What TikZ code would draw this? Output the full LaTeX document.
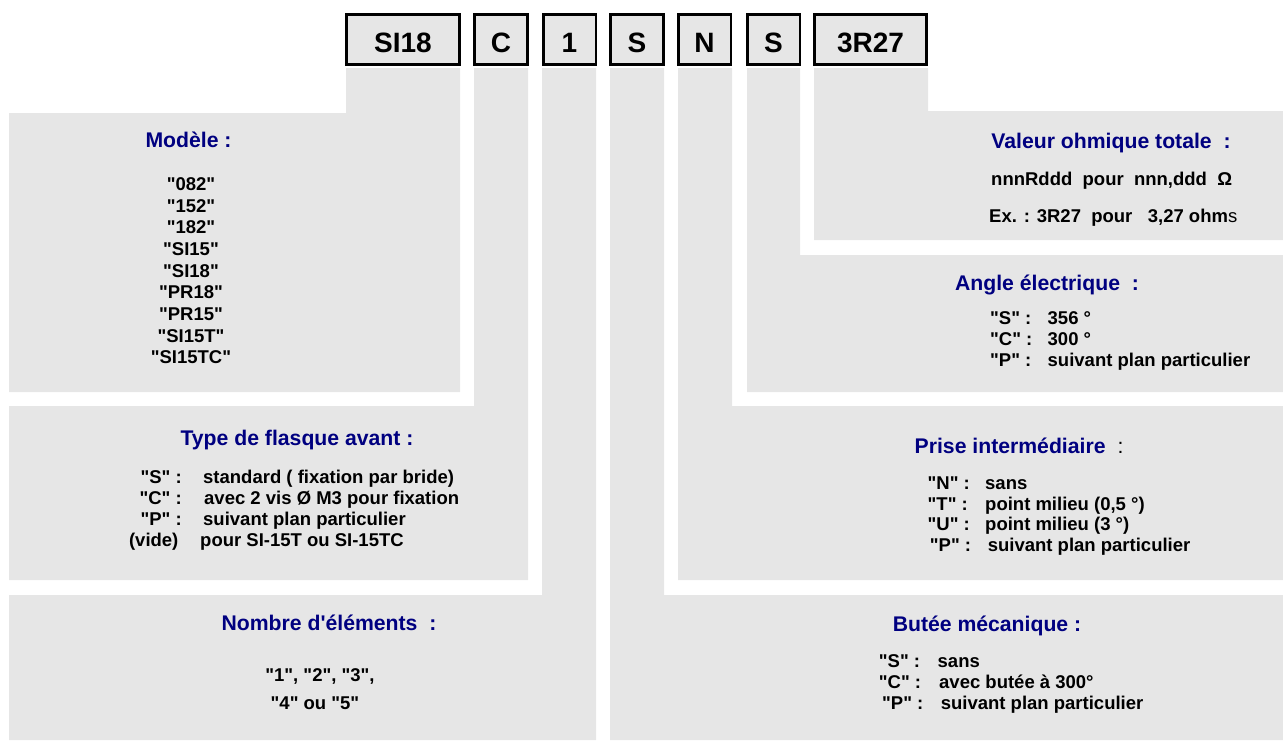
\documentclass[tikz,border=0pt]{standalone}
\usepackage{fontspec}
\setmainfont{Liberation Sans}[Ligatures=TeXOff]
\definecolor{panelgray}{RGB}{230,230,230}
\definecolor{titleblue}{RGB}{0,0,128}
\tikzset{
  codebox/.style={draw=black,line width=2.6pt,fill=panelgray,minimum width=52.6pt,
                  minimum height=49.8pt,inner sep=0pt,text height=26pt,text depth=0pt,
                  font=\fontsize{28}{30}\selectfont\bfseries},
  ttl/.style={inner sep=0pt,text=titleblue,font=\fontsize{21.2}{24}\selectfont\bfseries},
  opt/.style={inner sep=0pt,font=\fontsize{18.5}{21}\selectfont\bfseries}}

\begin{document}
\begin{tikzpicture}[x=1pt,y=-1pt]
  \useasboundingbox (0,0) rectangle (1283,740);
  % stems running down into their panels
  \fill[panelgray] (346,68)--(460,68)--(460,392)--(9,392)--(9,113)--(346,113)--cycle;
  \fill[panelgray] (474,68)--(528,68)--(528,580)--(9,580)--(9,406)--(474,406)--cycle;
  \fill[panelgray] (542,68)--(596,68)--(596,740)--(9,740)--(9,595)--(542,595)--cycle;
  \fill[panelgray] (610,68)--(664,68)--(664,595)--(1283,595)--(1283,740)--(610,740)--cycle;
  \fill[panelgray] (678,68)--(732,68)--(732,406)--(1283,406)--(1283,580)--(678,580)--cycle;
  \fill[panelgray] (747,68)--(800,68)--(800,255)--(1283,255)--(1283,392)--(747,392)--cycle;
  \fill[panelgray] (814,68)--(928,68)--(928,111)--(1283,111)--(1283,240)--(814,240)--cycle;
  % reference code
  \node[codebox,minimum width=113.4pt] (cmod) at (403,39.5) {SI18};
  \node[codebox,minimum width=53.4pt] (cflq) at (501,39.5) {C};
  \node[codebox] (cnbr) at (569.5,39.5) {1};
  \node[codebox,minimum width=53.4pt] (cang) at (637,39.5) {S};
  \node[codebox] (cpri) at (704.5,39.5) {N};
  \node[codebox] (cbut) at (773.5,39.5) {S};
  \node[codebox,minimum width=112.4pt] (cval) at (870.5,39.5) {3R27};
  % Modele
  \node[ttl,anchor=base] (tmod) at (188.5,147.5) {Modèle :};
  \node[opt,anchor=base] (m1) at (191,190.5) {"082"}; \node[opt,anchor=base] (m2) at (191,212.2) {"152"};
  \node[opt,anchor=base] (m3) at (191,233.8) {"182"}; \node[opt,anchor=base] (m4) at (191,255.5) {"SI15"};
  \node[opt,anchor=base] (m5) at (191,277.2) {"SI18"}; \node[opt,anchor=base] (m6) at (191,298.8) {"PR18"};
  \node[opt,anchor=base] (m7) at (191,320.5) {"PR15"}; \node[opt,anchor=base] (m8) at (191,342.2) {"SI15T"};
  \node[opt,anchor=base] (m9) at (191,363.8) {"SI15TC"};
  % Type de flasque
  \node[ttl,anchor=base] (tflq) at (297,445.5) {Type de flasque avant :};
  \node[opt,anchor=base east] (f1) at (182,483.5) {"S" :}; \node[opt,anchor=base west] (f1t) at (203,483.5) {standard ( fixation par bride)};
  \node[opt,anchor=base east] (f2) at (182,504.5) {"C" :}; \node[opt,anchor=base west] (f2t) at (204,504.5) {avec 2 vis Ø M3 pour fixation};
  \node[opt,anchor=base east] (f3) at (182,525.5) {"P" :}; \node[opt,anchor=base west] (f3t) at (203,525.5) {suivant plan particulier};
  \node[opt,anchor=base east] (f4) at (178.6,546.5) {(vide)}; \node[opt,anchor=base west] (f4t) at (200,546.5) {pour SI-15T ou SI-15TC};
  % Nombre d'elements
  \node[ttl,anchor=base] (tnbr) at (329,630.5) {Nombre d'éléments\ \ :};
  \node[opt,anchor=base] (n1) at (320,681.5) {"1", "2", "3",};
  \node[opt,anchor=base] (n2) at (315,709) {"4" ou "5"};
  % Valeur ohmique
  \node[ttl,anchor=base] (tval) at (1111,148.5) {Valeur ohmique totale\ \ :};
  \node[opt,anchor=base west] (v1) at (991,185.5) {nnnRddd\ \ pour\ \ nnn,ddd\ \ Ω};
  \node[opt,anchor=base west] (v2) at (989,222) {Ex. : 3R27\ \ pour\ \ \ 3,27 ohm{\mdseries s}};
  % Angle electrique
  \node[ttl,anchor=base] (tang) at (1047,290.5) {Angle électrique\ \ :};
  \node[opt,anchor=base west] (a1) at (990,324.5) {"S" :}; \node[opt,anchor=base west] (a1t) at (1047.5,324.5) {356 °};
  \node[opt,anchor=base west] (a2) at (990,345.5) {"C" :}; \node[opt,anchor=base west] (a2t) at (1047.5,345.5) {300 °};
  \node[opt,anchor=base west] (a3) at (990,366.5) {"P" :}; \node[opt,anchor=base west] (a3t) at (1047.5,366.5) {suivant plan particulier};
  % Prise intermediaire
  \node[ttl,anchor=base west] (tpri) at (914.5,453.5) {Prise intermédiaire\hspace{12pt}{\color{black}\mdseries :}};
  \node[opt,anchor=base west] (p1) at (927.5,489.5) {"N" :}; \node[opt,anchor=base west] (p1t) at (985,489.5) {sans};
  \node[opt,anchor=base west] (p2) at (927.5,510) {"T" :}; \node[opt,anchor=base west] (p2t) at (985,510) {point milieu (0,5 °)};
  \node[opt,anchor=base west] (p3) at (927.5,530.5) {"U" :}; \node[opt,anchor=base west] (p3t) at (985,530.5) {point milieu (3 °)};
  \node[opt,anchor=base west] (p4) at (929.7,551.5) {"P" :}; \node[opt,anchor=base west] (p4t) at (987.6,551.5) {suivant plan particulier};
  % Butee mecanique
  \node[ttl,anchor=base] (tbut) at (987,631.5) {Butée mécanique :};
  \node[opt,anchor=base west] (b1) at (878.7,667.5) {"S" :}; \node[opt,anchor=base west] (b1t) at (937.5,667.5) {sans};
  \node[opt,anchor=base west] (b2) at (878.7,688.5) {"C" :}; \node[opt,anchor=base west] (b2t) at (939,688.5) {avec butée à 300°};
  \node[opt,anchor=base west] (b3) at (882,709.5) {"P" :}; \node[opt,anchor=base west] (b3t) at (940.6,709.5) {suivant plan particulier};
\end{tikzpicture}
\end{document}
